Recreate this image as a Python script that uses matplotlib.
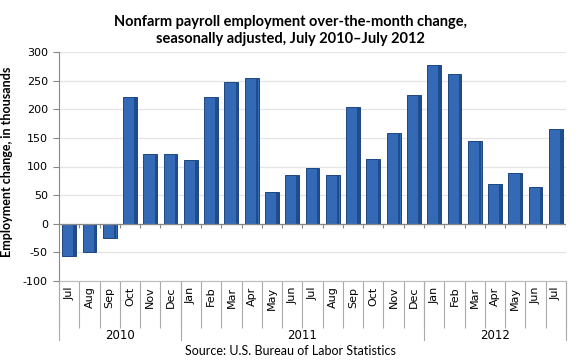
import numpy as np
import matplotlib
matplotlib.use("Agg")
import matplotlib.pyplot as plt

plt.rcParams["axes.unicode_minus"] = False

# Monthly over-the-month change, thousands
months = ["Jul", "Aug", "Sep", "Oct", "Nov", "Dec",
          "Jan", "Feb", "Mar", "Apr", "May", "Jun", "Jul", "Aug", "Sep", "Oct", "Nov", "Dec",
          "Jan", "Feb", "Mar", "Apr", "May", "Jun", "Jul"]
values = [-57, -50, -25, 222, 122, 122,
          112, 222, 248, 254, 55, 85, 98, 86, 204, 113, 158, 225,
          278, 262, 144, 69, 88, 65, 165]
years = ["2010", "2011", "2012"]
year_counts = [6, 12, 7]

fig = plt.figure(figsize=(5.8, 3.64), dpi=100)
ax = fig.add_axes([59/580, 1 - 281/364, 507/580, 229/364])

x = np.arange(len(values))
w = 0.68
ax.bar(x, values, width=w, color="#3469b6", edgecolor="#1d467f", linewidth=0.7, zorder=3)
# darker right-hand strip for the bevelled look
ax.bar(x + w / 2 - 0.07, values, width=0.12, color="#1f4c8c", linewidth=0, zorder=3.5)

ax.set_xlim(-0.5, len(values) - 0.5)
ax.set_ylim(-100, 300)
ax.set_yticks(np.arange(-100, 301, 50))
ax.grid(axis="y", color="#e4e4e4", linewidth=0.9, zorder=0)
ax.tick_params(axis="y", labelsize=8, length=4, color="#888888", pad=4)

for s in ["top", "right"]:
    ax.spines[s].set_visible(False)
ax.spines["left"].set_color("#888888")
ax.spines["bottom"].set_color("#bbbbbb")

# zero axis line with small ticks at category boundaries
ax.axhline(0, color="#888888", linewidth=0.9, zorder=4)
bounds = np.arange(-0.5, len(values), 1.0)
ax.vlines(bounds[1:], -7, 0, color="#888888", linewidth=0.8, zorder=4)

# month labels (minor ticks at centres), separators (major ticks at bounds)
ax.set_xticks(bounds)
ax.set_xticklabels([])
ax.tick_params(axis="x", which="major", length=34, color="#aaaaaa", width=0.8)
ax.set_xticks(x, minor=True)
ax.set_xticklabels(months, minor=True, rotation=90, fontsize=8)
ax.tick_params(axis="x", which="minor", length=0, pad=4)

# year labels and separators
trans = ax.get_xaxis_transform()
start = -0.5
for yr, n in zip(years, year_counts):
    ax.text(start + n / 2, -0.236, yr, transform=trans, ha="center", va="center", fontsize=8.5)
    start += n
for b in np.cumsum([0] + year_counts) - 0.5:
    ax.plot([b, b], [0, -0.258], transform=trans, color="#aaaaaa", linewidth=0.8, clip_on=False)

ax.set_ylabel("Employment change, in thousands", fontsize=9, fontweight="bold",
              family="Lato", labelpad=6)
ax.yaxis.set_label_coords(-0.09, 0.52)

fig.text(0.5, 0.958, "Nonfarm payroll employment over-the-month change,\nseasonally adjusted, July 2010\u2013July 2012",
         ha="center", va="top", fontsize=10.5, fontweight="bold", family="Lato", linespacing=1.25)
fig.text(0.5, 0.035, "Source: U.S. Bureau of Labor Statistics", ha="center", va="center",
         fontsize=9, family="Lato")

fig.savefig("out.png", dpi=100)
